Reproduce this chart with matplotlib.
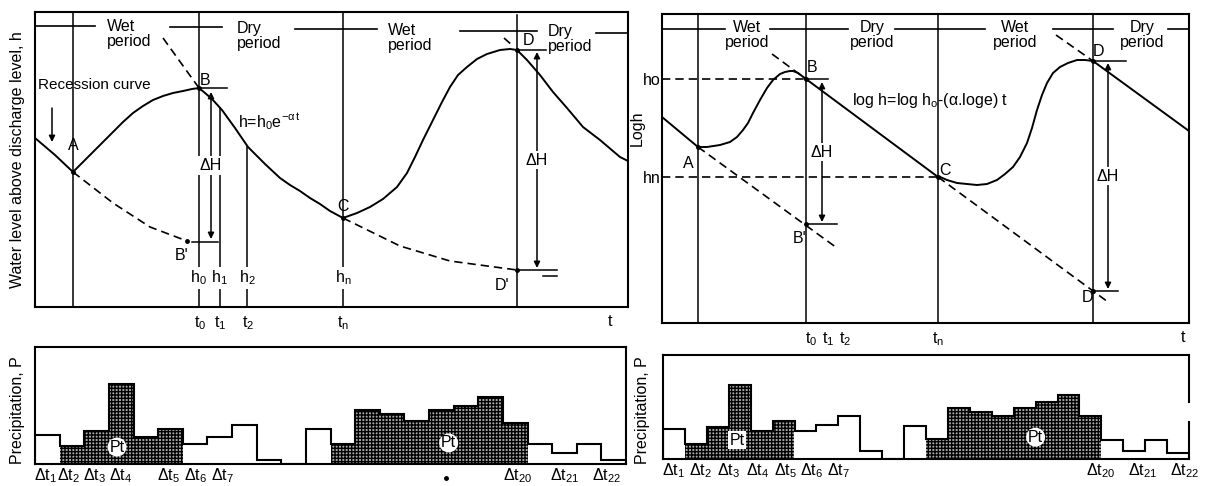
"""
Hydrograph recession sketch: water level (linear and log) with precipitation bars
"""

import matplotlib
matplotlib.use('Agg')
import matplotlib.pyplot as plt

W, H = 1212, 486

plt.rcParams['font.family'] = ['Liberation Sans', 'DejaVu Sans']
plt.rcParams['font.size'] = 11.5
plt.rcParams['mathtext.fontset'] = 'custom'
plt.rcParams['mathtext.rm'] = 'Liberation Sans'
plt.rcParams['mathtext.it'] = 'Liberation Sans'
plt.rcParams['mathtext.default'] = 'regular'
plt.rcParams['hatch.linewidth'] = 1.0
plt.rcParams['hatch.color'] = 'black'

# ---------------- data: left panel (linear level h) ----------------
hydro_t = [0, 20, 38, 48, 58, 68, 78, 88, 98, 108, 118, 128, 138, 148, 157, 164,
           170, 177, 187, 200, 213, 230, 245, 255, 265, 275, 285, 295, 308,
           322, 335, 348, 362, 372, 380, 388, 398, 407, 415, 423, 432, 442, 452,
           465, 475, 482, 492, 505, 518, 532, 548, 565, 585, 593]
hydro_h = [169, 152, 135, 145, 155, 165, 175, 185, 194, 201, 207, 211, 214, 216, 218, 219,
           214, 208, 197, 179, 160, 143, 129, 122, 116, 109, 103, 96, 89,
           94, 100, 108, 120, 134, 150, 167, 187, 205, 220, 232, 240, 248, 253,
           257, 258, 257, 247, 232, 215, 199, 180, 167, 150, 146]
back_b_t, back_b_h = [128, 164], [269, 219]
rec_a_t, rec_a_h = [38, 78, 115, 152], [135, 104, 80, 66]
rec_c_t, rec_c_h = [308, 365, 415, 482], [89, 61, 46, 37]
back_d_t, back_d_h = [469, 478], [269, 261]
pts_lin = {'A': (38, 135), 'B': (164, 219), 'C': (308, 89), 'D': (482, 257),
           "B'": (152, 66), "D'": (482, 37)}
vl_t = [38, 164, 185, 212, 308, 482]
vl_top = [295, 295, 199, 160, 295, 292]
lin_ticks = [165, 185, 213, 308, 575]
lin_ticklabels = ['t$_0$', 't$_1$', 't$_2$', 't$_n$', 't']
h_labels = ['h$_0$', 'h$_1$', 'h$_2$', 'h$_n$']
h_label_t = [163, 184, 212, 308]

band_lin_t = [(0, 60), (135, 187), (260, 342), (425, 502), (561, 593)]
band_lin_h = [281, 280, 278, 276, 274]
period_lin_t = [72, 202, 353, 513]
period_lin_h = [273, 271, 269, 268]
period_names = ['Wet\nperiod', 'Dry\nperiod', 'Wet\nperiod', 'Dry\nperiod']

# ---------------- data: right panel (log h) ----------------
log_left_t, log_left_h = [0, 36], [206, 176]
log_wet1_t = [36, 45, 58, 68, 75, 81, 86, 91, 98, 105, 111, 118, 123, 128, 131, 136, 144]
log_wet1_h = [176, 176, 178, 181, 186, 193, 200, 210, 223, 235, 243, 249, 251, 252, 252, 250, 244]
log_bc_t, log_bc_h = [144, 276], [244, 146]
log_wet2_t = [276, 285, 295, 305, 315, 325, 335, 343, 351, 358, 365, 370, 375, 380,
              385, 391, 398, 406, 415, 423, 431]
log_wet2_h = [147, 143, 140, 139, 138, 139, 143, 149, 156, 166, 180, 195, 213, 228,
              240, 250, 256, 260, 263, 263, 262]
log_d_t, log_d_h = [431, 527], [262, 192]
log_back_b_t, log_back_b_h = [110, 144], [269, 244]
log_ab_t, log_ab_h = [36, 175], [176, 75]
log_cd_t, log_cd_h = [276, 446], [146, 21]
log_back_d_t, log_back_d_h = [394, 431], [288, 262]
pts_log = {'A': (36, 176), 'B': (144, 244), 'C': (276, 146), 'D': (431, 262),
           "B'": (144, 99), "D'": (431, 32)}
log_vl_t = [36, 144, 276, 431]
log_ticks = [149, 166, 183, 276, 521]
log_ticklabels = ['t$_0$', 't$_1$', 't$_2$', 't$_n$', 't']
band_log_t = [(0, 63), (108, 186), (233, 323), (391, 451), (506, 527)]
period_log_t = [85, 210, 353, 480]

# ---------------- data: precipitation ----------------
precip_left = [2.5, 1.5, 2.8, 6.8, 2.3, 3.0, 1.7, 2.3, 3.3, 0.3, 0, 3.0,
               1.7, 4.6, 4.3, 3.7, 4.6, 5.0, 5.7, 3.5, 1.7, 0.9, 1.7, 0.3]
precip_right = [2.9, 1.4, 3.1, 7.1, 2.7, 3.7, 2.7, 3.3, 4.1, 0.8, 0, 3.2,
                1.9, 4.9, 4.5, 4.1, 4.9, 5.5, 6.2, 4.1, 1.8, 0.8, 1.8, 0.6]
wet_bars = [1, 2, 3, 4, 5, 12, 13, 14, 15, 16, 17, 18, 19]
dt_labels = ['Δt$_1$', 'Δt$_2$', 'Δt$_3$', 'Δt$_4$', 'Δt$_5$', 'Δt$_6$', 'Δt$_7$',
             'Δt$_{20}$', 'Δt$_{21}$', 'Δt$_{22}$']
dt_pos_left = [0.41, 1.34, 2.4, 3.46, 5.4, 6.5, 7.6, 19.6, 21.5, 23.2]
dt_pos_right = [0.46, 1.73, 3.0, 4.3, 5.6, 6.8, 8.0, 19.95, 21.9, 23.8]
pt_left = [(3.33, 1.45), (16.8, 1.8)]
pt_right = [(3.38, 1.8), (17.0, 2.1)]

DASH = dict(color='black', lw=1.2, dashes=(5, 3))
SOLID = dict(color='black', lw=1.4)
WHITE = dict(boxstyle='square,pad=0.1', fc='white', ec='none')


def add_ax(fig, x0, y0, x1, y1):
    ax = fig.add_axes([x0 / W, 1 - y1 / H, (x1 - x0) / W, (y1 - y0) / H])
    for s in ax.spines.values():
        s.set_linewidth(1.5)
    ax.tick_params(length=0)
    ax.set_yticks([])
    return ax


def delta_h(ax, t, h_top, h_bot):
    ax.annotate('', xy=(t, h_top), xytext=(t, h_bot),
                arrowprops=dict(arrowstyle='<|-|>', color='black', lw=1.1,
                                shrinkA=0, shrinkB=0, mutation_scale=9))
    ax.text(t, (h_top + h_bot) / 2, 'ΔH', ha='center', va='center', bbox=WHITE)


def band(ax, segs, seg_h, pos, pos_h, ha):
    for (a, b), hh in zip(segs, seg_h):
        ax.plot([a, b], [hh, hh], color='black', lw=1.2)
    for x, y, name in zip(pos, pos_h, period_names):
        ax.text(x, y, name, ha=ha, va='center', multialignment=ha, linespacing=1.0)


def precip(ax, values, dt_pos, pts, boxes):
    n = len(values)
    edges = list(range(n + 1))
    for i in wet_bars:
        ax.bar(i, values[i], width=1, align='edge', color='#a8a8a8',
               edgecolor='black', hatch='+++++', lw=0)
    ax.stairs(values, edges, baseline=0, color='black', lw=1.5)
    ax.set_xlim(0, n)
    ax.set_ylim(0, 10)
    ax.set_xticks(dt_pos, dt_labels)
    ax.tick_params(axis='x', pad=2)
    for (x, y), bs in zip(pts, boxes):
        ax.text(x, y, 'Pt', ha='center', va='center',
                bbox=dict(boxstyle=bs, fc='white', ec='none'))


fig = plt.figure(figsize=(W / 100, H / 100), dpi=100)

# ---------------- left: linear scale ----------------
ax1 = add_ax(fig, 35, 12, 628, 307)
ax1.set_xlim(0, 593)
ax1.set_ylim(0, 295)
for t, top in zip(vl_t, vl_top):
    ax1.plot([t, t], [0, top], color='black', lw=1.1)
band(ax1, band_lin_t, band_lin_h, period_lin_t, period_lin_h, 'left')
ax1.plot(hydro_t, hydro_h, **SOLID)
ax1.plot(back_b_t, back_b_h, **DASH)
ax1.plot(rec_a_t, rec_a_h, **DASH)
ax1.plot(rec_c_t, rec_c_h, **DASH)
ax1.plot(back_d_t, back_d_h, **DASH)
ax1.plot([164, 192], [219, 219], color='black', lw=1.1)
ax1.plot([157, 183], [65, 65], color='black', lw=1.1)
ax1.plot([482, 511], [257, 257], color='black', lw=1.1)
ax1.plot([482, 522], [37, 37], color='black', lw=1.1)
ax1.plot([508, 522], [31, 31], color='black', lw=1.1)
delta_h(ax1, 176, 215, 68)
delta_h(ax1, 502, 255, 39)
ax1.annotate('', xy=(17, 165), xytext=(17, 199),
             arrowprops=dict(arrowstyle='-|>', color='black', lw=1.1,
                             shrinkA=0, shrinkB=0, mutation_scale=9))
ax1.text(3, 222, 'Recession curve', ha='left', va='center', fontsize=11)
ax1.text(203, 185, 'h=h$_0$e$^{-α\\,t}$', ha='left', va='center')
lab_off = {'A': (0, 27), 'B': (6, 8), 'C': (0, 12), 'D': (11, 10), "B'": (-5, -14), "D'": (-15, -15)}
for k, (t, h) in pts_lin.items():
    ax1.plot(t, h, 'o', color='black', ms=2.5)
    dx, dy = lab_off[k]
    ax1.text(t + dx, h + dy, k, ha='center', va='center')
for t, lab in zip(h_label_t, h_labels):
    ax1.text(t, 29, lab, ha='center', va='center', bbox=WHITE)
ax1.set_xticks(lin_ticks, lin_ticklabels)
ax1.tick_params(axis='x', pad=5)

# ---------------- right: log scale ----------------
ax2 = add_ax(fig, 662, 14, 1189, 323)
ax2.set_xlim(0, 527)
ax2.set_ylim(0, 309)
for t in log_vl_t:
    ax2.plot([t, t], [0, 309], color='black', lw=1.1)
band(ax2, band_log_t, [294] * 5, period_log_t, [288] * 4, 'center')
ax2.plot(log_left_t, log_left_h, **SOLID)
ax2.plot(log_wet1_t, log_wet1_h, **SOLID)
ax2.plot(log_bc_t, log_bc_h, **SOLID)
ax2.plot(log_wet2_t, log_wet2_h, **SOLID)
ax2.plot(log_d_t, log_d_h, **SOLID)
ax2.plot(log_back_b_t, log_back_b_h, **DASH)
ax2.plot(log_ab_t, log_ab_h, **DASH)
ax2.plot(log_cd_t, log_cd_h, **DASH)
ax2.plot(log_back_d_t, log_back_d_h, **DASH)
ax2.plot([0, 144], [244, 244], **DASH)
ax2.plot([0, 276], [146, 146], **DASH)
ax2.plot([144, 166], [244, 244], color='black', lw=1.1)
ax2.plot([144, 175], [99, 99], color='black', lw=1.1)
ax2.plot([431, 464], [262, 262], color='black', lw=1.1)
ax2.plot([431, 456], [32, 32], color='black', lw=1.1)
delta_h(ax2, 160, 241, 101)
delta_h(ax2, 446, 260, 34)
ax2.text(190, 223, 'log h=log h$_o$-(α.loge) t', ha='left', va='center')
lab_off2 = {'A': (-10, -16), 'B': (6, 11), 'C': (7, 7), 'D': (5, 10), "B'": (-6, -14), "D'": (-4, -6)}
for k, (t, h) in pts_log.items():
    ax2.plot(t, h, 'o', color='black', ms=2.5)
    dx, dy = lab_off2[k]
    ax2.text(t + dx, h + dy, k, ha='center', va='center')
ax2.set_yticks([146, 244], ['hn', 'ho'])
ax2.tick_params(axis='y', pad=1)
ax2.set_xticks(log_ticks, log_ticklabels)
ax2.tick_params(axis='x', pad=5)
ax2.set_ylabel('Logh', labelpad=0)
ax2.yaxis.set_label_coords(-0.032, 0.63)

# ---------------- precipitation panels ----------------
ax3 = add_ax(fig, 35, 347, 626, 464)
precip(ax3, precip_left, dt_pos_left, pt_left, ['circle,pad=0.12', 'circle,pad=0.12'])
ax3.plot(16.7, -1.2, 'o', color='black', ms=2.5, clip_on=False)

ax4 = add_ax(fig, 663, 355, 1189, 459)
precip(ax4, precip_right, dt_pos_right, pt_right, ['square,pad=0.1', 'circle,pad=0.12'])
ax4.spines['right'].set_visible(False)
ax4.plot([24, 24], [0, 3.6], color='black', lw=1.5, clip_on=False)
ax4.plot([24, 24], [5.5, 10], color='black', lw=1.5, clip_on=False)

fig.text(18 / W, 1 - 160 / H, 'Water level above discharge level, h',
         rotation=90, ha='center', va='center')
fig.text(18 / W, 1 - 410 / H, 'Precipitation, P', rotation=90, ha='center', va='center')
fig.text(643 / W, 1 - 410 / H, 'Precipitation, P', rotation=90, ha='center', va='center')

fig.savefig('out.png', dpi=100)
